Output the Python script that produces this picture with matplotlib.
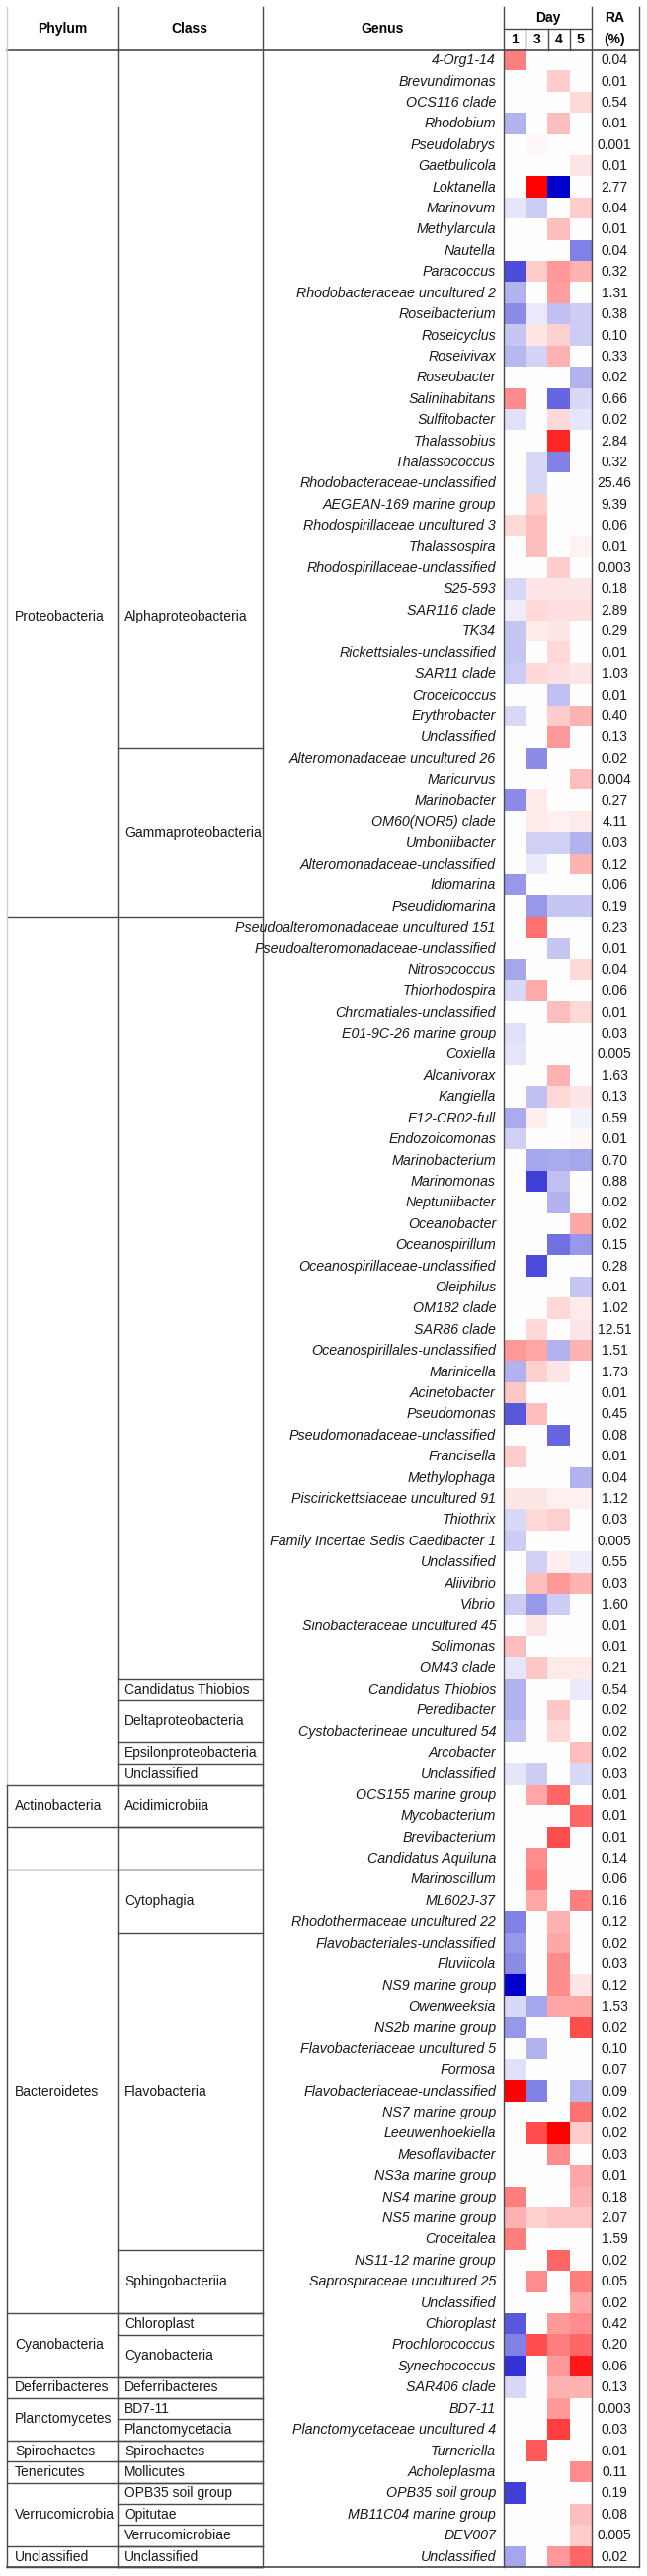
import matplotlib
matplotlib.use("Agg")
import matplotlib.pyplot as plt
import numpy as np
from matplotlib.colors import LinearSegmentedColormap

plt.rcParams["font.family"] = ["Liberation Sans", "DejaVu Sans"]

# ---- table data -------------------------------------------------------------
PHYLA = ["Proteobacteria", "Actinobacteria", "", "Bacteroidetes", "Cyanobacteria",
         "Deferribacteres", "Planctomycetes", "Spirochaetes", "Tenericutes",
         "Verrucomicrobia", "Unclassified"]
PHYLA_ROWS = [82, 2, 2, 21, 3, 1, 2, 1, 1, 3, 1]

CLASSES = ["Alphaproteobacteria", "Gammaproteobacteria", "Candidatus Thiobios",
           "Deltaproteobacteria", "Epsilonproteobacteria", "Unclassified",
           "Acidimicrobiia", "", "Cytophagia", "Flavobacteria", "Sphingobacteriia",
           "Chloroplast", "Cyanobacteria", "Deferribacteres", "BD7-11",
           "Planctomycetacia", "Spirochaetes", "Mollicutes", "OPB35 soil group",
           "Opitutae", "Verrucomicrobiae", "Unclassified"]
CLASS_ROWS = [33, 44, 1, 2, 1, 1, 2, 2, 3, 15, 3, 1, 2, 1, 1, 1, 1, 1, 1, 1, 1, 1]

GENERA = [
    "4-Org1-14", "Brevundimonas", "OCS116 clade", "Rhodobium", "Pseudolabrys",
    "Gaetbulicola", "Loktanella", "Marinovum", "Methylarcula", "Nautella",
    "Paracoccus", "Rhodobacteraceae uncultured 2", "Roseibacterium", "Roseicyclus",
    "Roseivivax", "Roseobacter", "Salinihabitans", "Sulfitobacter", "Thalassobius",
    "Thalassococcus", "Rhodobacteraceae-unclassified", "AEGEAN-169 marine group",
    "Rhodospirillaceae uncultured 3", "Thalassospira", "Rhodospirillaceae-unclassified",
    "S25-593", "SAR116 clade", "TK34", "Rickettsiales-unclassified", "SAR11 clade",
    "Croceicoccus", "Erythrobacter", "Unclassified",
    "Alteromonadaceae uncultured 26", "Maricurvus", "Marinobacter", "OM60(NOR5) clade",
    "Umboniibacter", "Alteromonadaceae-unclassified", "Idiomarina", "Pseudidiomarina",
    "Pseudoalteromonadaceae uncultured 151", "Pseudoalteromonadaceae-unclassified",
    "Nitrosococcus", "Thiorhodospira", "Chromatiales-unclassified",
    "E01-9C-26 marine group", "Coxiella", "Alcanivorax", "Kangiella", "E12-CR02-full",
    "Endozoicomonas", "Marinobacterium", "Marinomonas", "Neptuniibacter",
    "Oceanobacter", "Oceanospirillum", "Oceanospirillaceae-unclassified", "Oleiphilus",
    "OM182 clade", "SAR86 clade", "Oceanospirillales-unclassified", "Marinicella",
    "Acinetobacter", "Pseudomonas", "Pseudomonadaceae-unclassified", "Francisella",
    "Methylophaga", "Piscirickettsiaceae uncultured 91", "Thiothrix",
    "Family Incertae Sedis Caedibacter 1", "Unclassified", "Aliivibrio", "Vibrio",
    "Sinobacteraceae uncultured 45", "Solimonas", "OM43 clade",
    "Candidatus Thiobios", "Peredibacter", "Cystobacterineae uncultured 54",
    "Arcobacter", "Unclassified", "OCS155 marine group", "Mycobacterium",
    "Brevibacterium", "Candidatus Aquiluna", "Marinoscillum", "ML602J-37",
    "Rhodothermaceae uncultured 22", "Flavobacteriales-unclassified", "Fluviicola",
    "NS9 marine group", "Owenweeksia", "NS2b marine group",
    "Flavobacteriaceae uncultured 5", "Formosa", "Flavobacteriaceae-unclassified",
    "NS7 marine group", "Leeuwenhoekiella", "Mesoflavibacter", "NS3a marine group",
    "NS4 marine group", "NS5 marine group", "Croceitalea", "NS11-12 marine group",
    "Saprospiraceae uncultured 25", "Unclassified", "Chloroplast", "Prochlorococcus",
    "Synechococcus", "SAR406 clade", "BD7-11", "Planctomycetaceae uncultured 4",
    "Turneriella", "Acholeplasma", "OPB35 soil group", "MB11C04 marine group",
    "DEV007", "Unclassified",
]

RA = [
    "0.04", "0.01", "0.54", "0.01", "0.001", "0.01", "2.77", "0.04", "0.01", "0.04",
    "0.32", "1.31", "0.38", "0.10", "0.33", "0.02", "0.66", "0.02", "2.84", "0.32",
    "25.46", "9.39", "0.06", "0.01", "0.003", "0.18", "2.89", "0.29", "0.01", "1.03",
    "0.01", "0.40", "0.13", "0.02", "0.004", "0.27", "4.11", "0.03", "0.12", "0.06",
    "0.19", "0.23", "0.01", "0.04", "0.06", "0.01", "0.03", "0.005", "1.63", "0.13",
    "0.59", "0.01", "0.70", "0.88", "0.02", "0.02", "0.15", "0.28", "0.01", "1.02",
    "12.51", "1.51", "1.73", "0.01", "0.45", "0.08", "0.01", "0.04", "1.12", "0.03",
    "0.005", "0.55", "0.03", "1.60", "0.01", "0.01", "0.21", "0.54", "0.02", "0.02",
    "0.02", "0.03", "0.01", "0.01", "0.01", "0.14", "0.06", "0.16", "0.12", "0.02",
    "0.03", "0.12", "1.53", "0.02", "0.10", "0.07", "0.09", "0.02", "0.02", "0.03",
    "0.01", "0.18", "2.07", "1.59", "0.02", "0.05", "0.02", "0.42", "0.20", "0.06",
    "0.13", "0.003", "0.03", "0.01", "0.11", "0.19", "0.08", "0.005", "0.02",
]

DAYS = ["1", "3", "4", "5"]

# colour intensity (-1 = full blue, +1 = full red)
DAY1 = [0.5, 0, 0, -0.3, 0, 0, 0, -0.1, 0, 0,
        -0.7, -0.3, -0.45, -0.22, -0.28, 0, 0.45, -0.12, 0, 0,
        0, 0, 0.15, 0, 0, -0.15, -0.07, -0.22, -0.22, -0.2,
        0, -0.15, 0, 0, 0, -0.45, 0, 0, 0, -0.4,
        0, 0, 0, -0.35, -0.15, 0, -0.12, -0.1, 0, 0,
        -0.33, -0.18, 0, 0, 0, 0, 0, 0, 0, 0,
        0, 0.4, -0.3, 0.22, -0.65, 0, 0.2, 0, 0.1, -0.15,
        -0.2, 0, 0, -0.2, 0, 0.25, -0.1, -0.3, -0.3, -0.25,
        0, -0.1, 0, 0, 0, 0, 0, 0, -0.5, -0.4,
        -0.45, -1.0, -0.15, -0.4, 0, -0.12, 1.0, 0, 0, 0,
        0, 0.5, 0.3, 0.5, 0, 0, 0, -0.65, -0.5, -0.8,
        -0.15, 0, 0, 0, 0, -0.75, 0, 0, -0.35]
DAY3 = [0, 0, 0, 0, 0.03, 0, 1.0, -0.2, 0, 0,
        0.2, 0, -0.08, 0.1, -0.17, 0, 0, 0, 0, -0.15,
        -0.15, 0.2, 0.25, 0.25, 0, 0.1, 0.15, 0.08, 0, 0.15,
        0, 0, 0, -0.45, 0, 0.08, 0.08, -0.18, -0.08, 0,
        -0.4, 0.55, 0, 0, 0.33, 0, 0, 0, 0, -0.25,
        0.07, 0, -0.35, -0.75, 0, 0, 0, -0.7, 0, 0,
        0.15, 0.35, 0.18, 0, 0.25, 0, 0, 0, 0.1, 0.15,
        0, -0.18, 0.25, -0.4, 0.1, 0, 0.22, 0, 0, 0,
        0, -0.2, 0.35, 0, 0, 0.45, 0.5, 0.35, 0, 0,
        0, 0, -0.35, 0, -0.3, 0, -0.5, 0, 0.7, 0,
        0, 0, 0.18, 0, 0, 0.45, 0, 0, 0.7, 0,
        0, 0, 0, 0.65, 0, 0, 0, 0, 0]
DAY4 = [0, 0.2, 0, 0.25, 0, 0, -1.0, 0, 0.25, 0,
        0.4, 0.38, -0.25, 0.18, 0.3, 0, -0.6, 0.15, 0.85, -0.5,
        0, 0, 0, 0, 0.2, 0.1, 0.12, 0.1, 0.15, 0.12,
        -0.25, 0.2, 0.4, 0, 0, 0, 0.06, -0.18, 0, 0,
        -0.22, 0, -0.22, 0, 0, 0.25, 0, 0, 0.3, 0.15,
        0, 0, -0.33, -0.25, -0.3, 0, -0.55, 0, 0, 0.15,
        0, -0.3, 0.1, 0, 0, -0.6, 0, 0, 0.06, 0.18,
        0, 0.07, 0.4, -0.2, 0, 0, 0.08, 0, 0.22, 0.15,
        0, 0, 0.6, 0, 0.7, 0, 0, 0, 0.3, 0.35,
        0.45, 0.45, 0.35, 0, 0, 0, 0, 0, 1.0, 0.45,
        0, 0, 0.22, 0, 0.6, 0, 0, 0.4, 0.5, 0.4,
        0.3, 0.4, 0.75, 0, 0, 0, 0, 0, 0.4]
DAY5 = [0, 0, 0.15, 0, 0, 0.1, 0, 0.2, 0, -0.5,
        0.3, 0, -0.2, -0.2, 0, -0.3, -0.15, -0.1, 0, 0,
        0, 0, 0, 0.05, 0, 0.1, 0.12, 0, 0, 0.1,
        0, 0.3, 0, 0, 0.25, 0, 0.08, -0.3, 0.3, 0,
        -0.22, 0, 0, 0.15, 0, 0.15, 0, 0, 0, 0.1,
        -0.05, 0.03, -0.35, 0, 0, 0.35, -0.4, 0, -0.22, 0.08,
        0.1, 0.3, 0, 0, 0, 0, 0, -0.3, 0.06, 0,
        0, -0.07, 0.3, 0, 0, 0, 0.08, -0.08, 0, 0,
        0.25, -0.15, 0, 0.6, 0, 0, 0, 0.5, 0, 0,
        0, 0.1, 0.35, 0.7, 0, 0, -0.28, 0.55, 0.2, 0,
        0.35, 0.3, 0.22, 0, 0, 0.5, 0.35, 0.45, 0.6, 0.9,
        0.3, 0, 0, 0, 0.45, 0, 0.25, 0.2, 0.6]

# ---- layout (pixel space of a 655 x 2607 canvas) ----------------------------
W, H = 655, 2607
TOP, ROW_H = 50.5, 21.41
X_LEFT, X_PHY, X_CLS, X_HM0, X_HM1, X_RIGHT = 7, 118.5, 266, 510, 599, 647
LINE = "#4a4a4a"
FS = 10
FS_GENUS = 10.3


def row_y(i):
    return TOP + i * ROW_H


n = len(GENERA)
heat = np.array([DAY1, DAY3, DAY4, DAY5]).T

fig = plt.figure(figsize=(W / 100, H / 100), dpi=100)
ax = fig.add_axes([0, 0, 1, 1])
ax.set_xlim(0, W)
ax.set_ylim(H, 0)
ax.axis("off")

cmap = LinearSegmentedColormap.from_list("bwr_table", ["#0000CC", "#FFFFFF", "#FF0000"])
ax.imshow(heat, cmap=cmap, vmin=-1, vmax=1, aspect="auto", interpolation="nearest",
          extent=(X_HM0, X_HM1, row_y(n), row_y(0)), zorder=1)

# header
hy1, hy2 = 18, 40
ax.text(63, 29, "Phylum", ha="center", va="center", fontsize=FS, fontweight="bold")
ax.text(192, 29, "Class", ha="center", va="center", fontsize=FS, fontweight="bold")
ax.text(387, 29, "Genus", ha="center", va="center", fontsize=FS, fontweight="bold")
ax.text((X_HM0 + X_HM1) / 2, hy1, "Day", ha="center", va="center", fontsize=FS,
        fontweight="bold")
col_w = (X_HM1 - X_HM0) / len(DAYS)
for k, d in enumerate(DAYS):
    ax.text(X_HM0 + (k + 0.5) * col_w, hy2, d, ha="center", va="center", fontsize=FS,
            fontweight="bold")
    if k:
        ax.plot([X_HM0 + k * col_w] * 2, [28.5, TOP], color=LINE, lw=1)
ax.plot([X_HM0, X_HM1], [28.5, 28.5], color=LINE, lw=1)
ax.text(622, hy1, "RA", ha="center", va="center", fontsize=FS, fontweight="bold")
ax.text(622, hy2, "(%)", ha="center", va="center", fontsize=FS, fontweight="bold")

# genus + RA
for i, (g, r) in enumerate(zip(GENERA, RA)):
    yc = row_y(i + 0.5)
    ax.text(502, yc, g, ha="right", va="center", fontsize=FS_GENUS, style="italic",
            color="#1a1a1a")
    ax.text(622, yc, r, ha="center", va="center", fontsize=FS, color="#1a1a1a")

# phylum boxes
start = 0
for name, cnt in zip(PHYLA, PHYLA_ROWS):
    end = start + cnt
    ax.plot([X_LEFT, X_CLS], [row_y(end)] * 2, color=LINE, lw=1)
    yc = row_y(26.8) if name == "Proteobacteria" else row_y((start + end) / 2)
    ax.text(15, yc, name, ha="left", va="center", fontsize=FS, color="#1a1a1a")
    start = end

# class boxes
start = 0
for name, cnt in zip(CLASSES, CLASS_ROWS):
    end = start + cnt
    ax.plot([X_PHY, X_CLS], [row_y(end)] * 2, color=LINE, lw=1)
    yc = row_y(26.8) if name == "Alphaproteobacteria" else row_y((start + end) / 2)
    if name == "Gammaproteobacteria":
        yc = row_y((33 + 41) / 2)
    ax.text(126, yc, name, ha="left", va="center", fontsize=FS, color="#1a1a1a")
    start = end

# page-break line inside the Proteobacteria block
ax.plot([X_LEFT, X_CLS], [row_y(41)] * 2, color=LINE, lw=1)

# frame
ax.plot([X_LEFT, X_RIGHT], [TOP, TOP], color=LINE, lw=1.2)
ax.plot([X_LEFT, X_RIGHT], [row_y(n), row_y(n)], color=LINE, lw=1.2)
ax.plot([X_LEFT, X_LEFT], [7, row_y(82)], color="#d0d0d0", lw=1)
ax.plot([X_LEFT, X_LEFT], [row_y(82), row_y(n)], color=LINE, lw=1)
for x in (X_PHY, X_CLS, X_HM0, X_HM1, X_RIGHT):
    ax.plot([x, x], [7, row_y(n)], color=LINE, lw=1)

fig.savefig("out.png", dpi=100, facecolor="white")
